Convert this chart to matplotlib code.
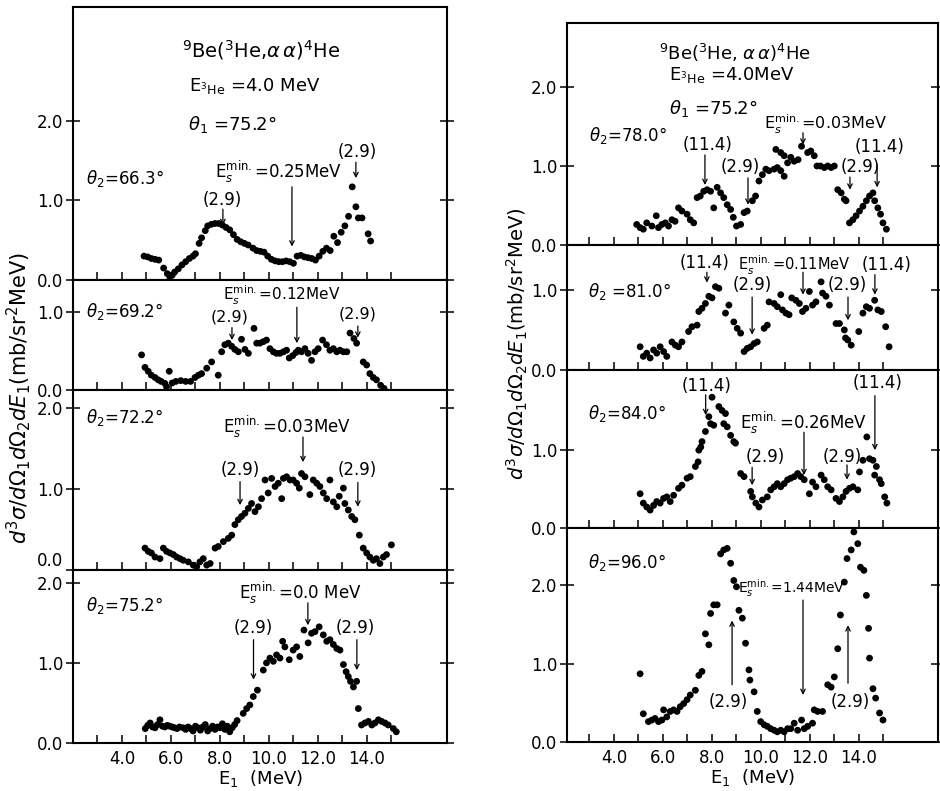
import numpy as np
import matplotlib.pyplot as plt

plt.rcParams['font.family'] = 'DejaVu Sans'
plt.rcParams['mathtext.fontset'] = 'dejavusans'

# ---- data: E1 (MeV) and cross section (mb/sr^2 MeV) ----
# left column, theta2 = 66.3
l1_x = [4.9, 5.05, 5.2, 5.35, 5.5, 5.7, 5.85, 5.95, 6.05, 6.15, 6.3, 6.45, 6.6, 6.75, 6.9, 7.0,
        7.15, 7.25, 7.4, 7.5, 7.65, 7.8, 7.95, 8.1, 8.25, 8.4, 8.55, 8.7, 8.85, 9.0, 9.15, 9.35,
        9.5, 9.65, 9.8, 9.95, 10.1, 10.25, 10.4, 10.55, 10.7, 10.85, 11.0, 11.15, 11.3, 11.45,
        11.6, 11.75, 11.9, 12.05, 12.2, 12.35, 12.5, 12.65, 12.8, 12.95, 13.1, 13.25, 13.4,
        13.55, 13.65, 13.8, 14.05, 14.15]
l1_y = [0.30, 0.29, 0.27, 0.26, 0.25, 0.15, 0.08, 0.04, 0.06, 0.10, 0.14, 0.19, 0.23, 0.27, 0.30, 0.33,
        0.46, 0.53, 0.62, 0.68, 0.70, 0.71, 0.71, 0.69, 0.66, 0.63, 0.57, 0.51, 0.48, 0.46, 0.44, 0.40,
        0.37, 0.36, 0.35, 0.30, 0.26, 0.24, 0.23, 0.23, 0.24, 0.23, 0.21, 0.30, 0.31, 0.29,
        0.28, 0.27, 0.25, 0.30, 0.36, 0.40, 0.37, 0.55, 0.47, 0.60, 0.68, 0.80, 1.17,
        0.92, 0.78, 0.78, 0.58, 0.49]

# theta2 = 69.2
l2_x = [4.8, 4.94, 5.07, 5.2, 5.35, 5.48, 5.6, 5.75, 5.82, 5.93, 6.05, 6.2, 6.4, 6.6, 6.8,
        6.98, 7.12, 7.25, 7.46, 7.66, 7.93, 8.07, 8.2, 8.34, 8.48, 8.61, 8.75, 8.88, 9.02, 9.16,
        9.39, 9.5, 9.63, 9.77, 9.9, 10.04, 10.18, 10.31, 10.45, 10.59, 10.72, 10.83, 10.97,
        11.1, 11.2, 11.33, 11.47, 11.6, 11.74, 11.88, 12.01, 12.19, 12.35, 12.49, 12.63, 12.77,
        12.9, 13.04, 13.18, 13.31, 13.47, 13.58, 13.85, 13.99, 14.12, 14.26, 14.39, 14.56, 14.7]
l2_y = [0.45, 0.29, 0.24, 0.19, 0.16, 0.13, 0.11, 0.085, 0.04, 0.24, 0.09, 0.11, 0.12, 0.11, 0.11,
        0.16, 0.19, 0.21, 0.28, 0.36, 0.19, 0.49, 0.58, 0.60, 0.56, 0.52, 0.49, 0.65, 0.52, 0.47,
        0.79, 0.60, 0.60, 0.62, 0.64, 0.53, 0.49, 0.47, 0.47, 0.49, 0.51, 0.41, 0.44,
        0.48, 0.51, 0.49, 0.53, 0.47, 0.38, 0.49, 0.53, 0.64, 0.58, 0.51, 0.53, 0.49,
        0.51, 0.49, 0.49, 0.73, 0.66, 0.60, 0.36, 0.32, 0.21, 0.16, 0.13, 0.06, 0.02]

# theta2 = 72.2
l3_x = [4.94, 5.07, 5.2, 5.35, 5.55, 5.69, 5.82, 5.96, 6.1, 6.23, 6.37, 6.5, 6.71, 6.91, 7.05,
        7.18, 7.32, 7.46, 7.6, 7.8, 7.93, 8.14, 8.34, 8.48, 8.61, 8.75, 8.88, 9.02, 9.16, 9.29,
        9.43, 9.57, 9.7, 9.84, 9.97, 10.11, 10.25, 10.38, 10.52, 10.59, 10.72, 10.86, 10.99,
        11.13, 11.24, 11.33, 11.47, 11.67, 11.81, 11.95, 12.08, 12.22, 12.36, 12.49, 12.63,
        12.77, 12.87, 13.04, 13.1, 13.24, 13.38, 13.51, 13.69, 13.85, 13.99, 14.12, 14.26,
        14.39, 14.53, 14.67, 14.8, 15.0]
l3_y = [0.27, 0.23, 0.21, 0.16, 0.14, 0.27, 0.23, 0.21, 0.19, 0.16, 0.14, 0.12, 0.10, 0.06, 0.04,
        0.10, 0.14, 0.06, 0.08, 0.27, 0.29, 0.35, 0.39, 0.43, 0.56, 0.62, 0.66, 0.70, 0.76, 0.82,
        0.72, 0.78, 0.88, 1.11, 0.95, 1.13, 1.03, 1.07, 0.88, 1.13, 1.15, 1.11, 1.11,
        1.07, 1.01, 1.19, 1.15, 0.93, 1.11, 1.07, 1.03, 0.95, 0.88, 1.11, 0.84,
        0.78, 0.91, 1.01, 0.82, 0.74, 0.66, 0.62, 0.43, 0.27, 0.21, 0.16, 0.12,
        0.14, 0.08, 0.16, 0.19, 0.31]

# theta2 = 75.2
l4_x = [4.95, 5.05, 5.15, 5.25, 5.35, 5.45, 5.55, 5.65, 5.75, 5.85, 5.95, 6.05, 6.15, 6.25,
        6.35, 6.5, 6.6, 6.7, 6.8, 6.9, 7.0, 7.1, 7.2, 7.3, 7.4, 7.5, 7.6, 7.7, 7.8, 7.9, 8.0,
        8.1, 8.2, 8.3, 8.4, 8.5, 8.6, 8.7, 8.95, 9.09, 9.22, 9.36, 9.53, 9.77, 9.9, 10.04,
        10.18, 10.31, 10.45, 10.56, 10.65, 10.83, 10.99, 11.13, 11.26, 11.43, 11.6, 11.74,
        11.88, 12.05, 12.22, 12.36, 12.49, 12.63, 12.77, 12.9, 13.04, 13.15, 13.24, 13.33,
        13.45, 13.58, 13.65, 13.78, 13.92, 14.06, 14.2, 14.33, 14.47, 14.6, 14.74, 14.87,
        15.08, 15.2]
l4_y = [0.18, 0.22, 0.25, 0.20, 0.19, 0.23, 0.29, 0.21, 0.20, 0.22, 0.21, 0.20, 0.19, 0.18,
        0.20, 0.19, 0.17, 0.20, 0.18, 0.15, 0.21, 0.19, 0.16, 0.20, 0.23, 0.15, 0.18, 0.21, 0.17,
        0.20, 0.19, 0.24, 0.17, 0.21, 0.14, 0.19, 0.23, 0.28, 0.37, 0.43, 0.475, 0.58, 0.66,
        0.91, 1.0, 1.06, 1.02, 1.10, 1.06, 1.27, 1.20, 1.04, 1.16, 1.20, 1.08, 1.41, 1.25,
        1.37, 1.39, 1.45, 1.35, 1.27, 1.29, 1.23, 1.18, 1.16, 0.98, 0.89, 0.83, 0.77, 0.70,
        0.77, 0.43, 0.225, 0.25, 0.27, 0.225, 0.25, 0.29, 0.27, 0.25, 0.225, 0.18, 0.14]

# right column, theta2 = 78.0
r1_x = [4.93, 5.07, 5.2, 5.34, 5.55, 5.73, 5.82, 5.96, 6.1, 6.23, 6.37, 6.5, 6.64, 6.78, 6.99,
        7.12, 7.26, 7.4, 7.53, 7.67, 7.81, 7.95, 8.08, 8.22, 8.36, 8.49, 8.63, 8.77, 8.88, 9.01,
        9.18, 9.32, 9.45, 9.66, 9.79, 9.93, 10.07, 10.21, 10.34, 10.55, 10.62, 10.68, 10.82,
        10.82, 10.96, 10.96, 11.1, 11.23, 11.37, 11.53, 11.67, 11.92, 12.05, 12.19, 12.3, 12.44,
        12.6, 12.74, 12.88, 13.01, 13.15, 13.29, 13.42, 13.49, 13.63, 13.77, 13.9, 14.04, 14.18,
        14.32, 14.45, 14.59, 14.66, 14.79, 14.9, 15.0, 15.14]
r1_y = [0.26, 0.22, 0.20, 0.28, 0.24, 0.37, 0.22, 0.26, 0.28, 0.24, 0.32, 0.30, 0.47, 0.43, 0.39,
        0.32, 0.28, 0.60, 0.62, 0.68, 0.70, 0.68, 0.47, 0.73, 0.66, 0.60, 0.51, 0.45, 0.35, 0.24,
        0.26, 0.41, 0.43, 0.56, 0.62, 0.81, 0.89, 0.96, 0.94, 0.96, 1.21, 0.98, 1.17,
        0.94, 1.13, 0.87, 1.04, 1.11, 1.06, 1.08, 1.25, 1.17, 1.19, 1.13, 1.0, 1.0,
        0.98, 1.0, 0.98, 1.0, 0.70, 0.66, 0.58, 0.56, 0.28, 0.32, 0.37, 0.43, 0.49,
        0.56, 0.62, 0.66, 0.56, 0.47, 0.39, 0.28, 0.20]

# theta2 = 81.0
r2_x = [5.07, 5.2, 5.34, 5.48, 5.62, 5.75, 5.89, 6.03, 6.16, 6.37, 6.51, 6.64, 6.78, 7.05, 7.19,
        7.4, 7.47, 7.6, 7.74, 7.88, 8.01, 8.15, 8.29, 8.56, 8.7, 8.9, 9.04, 9.18, 9.32, 9.45,
        9.59, 9.73, 9.86, 10.14, 10.27, 10.34, 10.55, 10.68, 10.82, 10.89, 11.03, 11.16, 11.27,
        11.44, 11.58, 11.71, 11.85, 11.99, 12.12, 12.26, 12.47, 12.53, 12.67, 12.81, 13.08,
        13.22, 13.42, 13.47, 13.56, 13.7, 14.01, 14.18, 14.32, 14.45, 14.66, 14.79, 14.93,
        15.11, 15.25]
r2_y = [0.29, 0.17, 0.21, 0.15, 0.25, 0.21, 0.29, 0.23, 0.17, 0.35, 0.31, 0.29, 0.35, 0.48, 0.54,
        0.56, 0.73, 0.77, 0.83, 0.92, 0.90, 1.04, 1.02, 0.71, 0.81, 0.60, 0.52, 0.46, 0.23, 0.27,
        0.29, 0.33, 0.35, 0.52, 0.56, 0.85, 0.83, 0.79, 0.94, 0.75, 0.71, 0.69, 0.90,
        0.87, 0.83, 0.73, 0.77, 0.98, 0.81, 0.85, 1.10, 0.96, 0.92, 0.81, 0.58,
        0.58, 0.50, 0.40, 0.375, 0.31, 0.48, 0.71, 0.79, 0.77, 0.87, 0.75, 0.73,
        0.54, 0.29]

# theta2 = 84.0
r3_x = [5.07, 5.2, 5.34, 5.48, 5.62, 5.75, 5.89, 6.03, 6.16, 6.3, 6.44, 6.64, 6.78, 6.99, 7.12,
        7.33, 7.44, 7.47, 7.55, 7.6, 7.74, 7.88, 7.95, 8.01, 8.08, 8.29, 8.42, 8.49, 8.56, 8.63,
        8.77, 8.9, 8.97, 9.18, 9.32, 9.59, 9.66, 9.8, 9.93, 10.07, 10.27, 10.41, 10.55, 10.68,
        10.82, 10.96, 11.1, 11.23, 11.37, 11.51, 11.64, 11.78, 11.99, 12.12, 12.26, 12.47,
        12.6, 12.74, 12.88, 13.08, 13.22, 13.36, 13.49, 13.63, 13.77, 13.97, 14.04, 14.18,
        14.34, 14.45, 14.59, 14.66, 14.73, 14.86, 14.93, 15.07, 15.16]
r3_y = [0.44, 0.32, 0.27, 0.23, 0.29, 0.34, 0.32, 0.38, 0.40, 0.34, 0.42, 0.51, 0.55, 0.64, 0.66,
        0.79, 0.85, 1.0, 1.04, 1.11, 1.24, 1.43, 1.34, 1.68, 1.32, 1.56, 1.51, 1.34, 1.47, 1.30,
        1.19, 1.11, 1.09, 0.70, 0.66, 0.47, 0.40, 0.32, 0.27, 0.36, 0.40, 0.49, 0.53, 0.57,
        0.53, 0.57, 0.62, 0.64, 0.66, 0.70, 0.66, 0.62, 0.44, 0.59, 0.53, 0.68,
        0.62, 0.53, 0.49, 0.38, 0.34, 0.40, 0.47, 0.51, 0.53, 0.49, 0.72, 0.87,
        1.17, 0.89, 0.87, 0.68, 0.79, 0.62, 0.57, 0.40, 0.32]

# theta2 = 96.0
r4_x = [5.07, 5.2, 5.41, 5.55, 5.68, 5.82, 5.96, 6.03, 6.16, 6.3, 6.44, 6.58, 6.71, 6.85, 6.99,
        7.12, 7.33, 7.47, 7.6, 7.74, 7.88, 7.95, 8.08, 8.22, 8.36, 8.49, 8.63, 8.77, 8.9, 9.01,
        9.11, 9.25, 9.38, 9.52, 9.56, 9.73, 9.86, 10.0, 10.14, 10.27, 10.41, 10.55, 10.68,
        10.82, 10.96, 11.1, 11.23, 11.37, 11.51, 11.67, 11.78, 11.92, 12.12, 12.19, 12.33,
        12.53, 12.74, 12.88, 13.01, 13.15, 13.26, 13.42, 13.53, 13.7, 13.81, 13.97, 14.08,
        14.22, 14.32, 14.41, 14.45, 14.59, 14.7, 14.86, 15.0]
r4_y = [0.87, 0.36, 0.26, 0.28, 0.30, 0.26, 0.28, 0.41, 0.32, 0.39, 0.41, 0.39, 0.45, 0.49, 0.54,
        0.60, 0.66, 0.85, 0.90, 1.38, 1.24, 1.64, 1.75, 1.75, 2.40, 2.45, 2.47, 2.28, 2.06, 1.98,
        1.68, 1.58, 1.26, 0.92, 0.79, 0.64, 0.39, 0.26, 0.22, 0.20, 0.17, 0.15, 0.13,
        0.15, 0.13, 0.17, 0.17, 0.24, 0.15, 0.28, 0.17, 0.20, 0.24, 0.41, 0.39,
        0.39, 0.73, 0.70, 0.83, 1.19, 1.62, 2.04, 2.34, 2.45, 2.68, 2.53, 2.23,
        2.19, 1.87, 1.45, 1.07, 0.68, 0.56, 0.37, 0.28]

W, H = 940, 791
fig = plt.figure(figsize=(W / 100, H / 100), dpi=100)


def rect(x0, x1, y0, y1):
    return [x0 / W, 1 - y1 / H, (x1 - x0) / W, (y1 - y0) / H]


def panel(r, xlim, ylim, yt, xs, ys, bottom):
    ax = fig.add_axes(r)
    ax.scatter(xs, ys, s=24, c='black', edgecolors='none', zorder=3)
    ax.set_xlim(*xlim)
    ax.set_ylim(0, ylim)
    ax.set_xticks(range(3, 16))
    if bottom:
        ax.set_xticklabels(['' if v % 2 else f'{v:.1f}' for v in range(3, 16)])
    else:
        ax.set_xticklabels([])
    ax.set_yticks(yt)
    ax.set_yticklabels([f'{v:.1f}' for v in yt])
    ax.tick_params(axis='x', direction='in', length=6, width=1.1, labelsize=12, pad=5)
    ax.tick_params(axis='y', direction='inout', length=10, width=1.1, labelsize=12,
                   right=True, pad=2)
    for s in ax.spines.values():
        s.set_linewidth(1.5)
    return ax


def note(ax, txt, x, y, ha='center', fs=12):
    ax.text(x, y, txt, ha=ha, va='center', fontsize=fs)


def arrow(ax, x, y0, y1):
    ax.annotate('', xy=(x, y1), xytext=(x, y0),
                arrowprops=dict(arrowstyle='->', lw=0.9, color='black',
                                shrinkA=0, shrinkB=0, mutation_scale=8))


XL = (2.0, 17.27)
XR = (2.08, 17.25)
Es = r'E$_s^{\rm min.}$'

# ---------------- left column ----------------
a = panel(rect(73, 447, 7, 280), XL, 3.43, [0, 1, 2], l1_x, l1_y, False)
note(a, r'$^9$Be($^3$He,$\alpha\,\alpha$)$^4$He', 9.7, 2.89, fs=14)
note(a, r'E$_{^3{\rm He}}$ =4.0 MeV', 6.75, 2.44, ha='left', fs=13)
note(a, r'$\theta_1$ =75.2°', 6.7, 1.95, ha='left', fs=13)
note(a, r'$\theta_2$=66.3°', 2.55, 1.28, ha='left')
note(a, Es + '=0.25MeV', 7.8, 1.36, ha='left')
arrow(a, 10.94, 1.17, 0.42)
note(a, '(2.9)', 8.08, 1.0)
arrow(a, 8.12, 0.89, 0.69)
note(a, '(2.9)', 13.6, 1.61)
arrow(a, 13.55, 1.48, 1.28)

a = panel(rect(73, 447, 280, 390), XL, 1.41, [0, 1], l2_x, l2_y, False)
note(a, r'$\theta_2$=69.2°', 2.55, 1.0, ha='left')
note(a, Es + '=0.12MeV', 8.12, 1.21, ha='left', fs=11)
arrow(a, 11.14, 1.06, 0.60)
note(a, '(2.9)', 8.4, 0.93, fs=11.5)
arrow(a, 8.49, 0.80, 0.64)
note(a, '(2.9)', 13.63, 0.97, fs=11.5)
arrow(a, 13.63, 0.82, 0.67)

a = panel(rect(73, 447, 390, 570), XL, 2.22, [0, 1, 2], l3_x, l3_y, False)
a.get_yticklabels()[0].set_va('bottom')
note(a, r'$\theta_2$=72.2°', 2.55, 1.88, ha='left')
note(a, Es + '=0.03MeV', 8.12, 1.77, ha='left')
arrow(a, 11.39, 1.64, 1.33)
note(a, '(2.9)', 8.82, 1.23)
arrow(a, 8.82, 1.09, 0.80)
note(a, '(2.9)', 13.6, 1.23)
arrow(a, 13.63, 1.08, 0.78)

a = panel(rect(73, 447, 570, 743), XL, 2.16, [0, 1, 2], l4_x, l4_y, True)
note(a, r'$\theta_2$=75.2°', 2.55, 1.72, ha='left')
note(a, Es + '=0.0 MeV', 8.78, 1.87, ha='left')
arrow(a, 11.59, 1.75, 1.47)
note(a, '(2.9)', 9.35, 1.44)
arrow(a, 9.37, 1.29, 0.79)
note(a, '(2.9)', 13.51, 1.44)
arrow(a, 13.59, 1.29, 0.91)
a.set_xlabel(r'E$_1$  (MeV)', fontsize=13, labelpad=0)

fig.text(0.02, 1 - 398 / H, r'$d^3\sigma/d\Omega_1 d\Omega_2 dE_1$(mb/sr$^2$MeV)',
         rotation=90, ha='center', va='center', fontsize=15)

# ---------------- right column ----------------
a = panel(rect(567, 938, 23, 245), XR, 2.81, [0, 1, 2], r1_x, r1_y, False)
note(a, r'$^9$Be($^3$He, $\alpha\,\alpha$)$^4$He', 8.95, 2.43, fs=13)
note(a, r'E$_{^3{\rm He}}$ =4.0MeV', 6.25, 2.15, ha='left', fs=13)
note(a, r'$\theta_1$ =75.2°', 6.25, 1.73, ha='left', fs=13)
note(a, r'$\theta_2$=78.0°', 3.0, 1.39, ha='left')
note(a, Es + '=0.03MeV', 10.15, 1.53, ha='left', fs=11.5)
arrow(a, 11.73, 1.42, 1.27)
note(a, '(11.4)', 7.84, 1.27)
arrow(a, 7.72, 1.14, 0.76)
note(a, '(2.9)', 9.15, 0.99)
arrow(a, 9.48, 0.85, 0.51)
note(a, '(2.9)', 14.06, 0.99)
arrow(a, 13.65, 0.86, 0.70)
note(a, '(11.4)', 14.88, 1.24)
arrow(a, 14.76, 1.01, 0.73)

a = panel(rect(567, 938, 245, 370), XR, 1.56, [0, 1], r2_x, r2_y, False)
note(a, r'$\theta_2$ =81.0°', 2.94, 0.98, ha='left')
note(a, '(11.4)', 7.72, 1.34)
arrow(a, 7.8, 1.22, 1.09)
note(a, Es + '=0.11MeV', 9.07, 1.31, ha='left', fs=10.5)
arrow(a, 11.73, 1.22, 0.94)
note(a, '(2.9)', 9.65, 1.06)
arrow(a, 9.65, 0.91, 0.44)
note(a, '(2.9)', 13.53, 1.06)
arrow(a, 13.57, 0.91, 0.62)
note(a, '(11.4)', 15.15, 1.31)
arrow(a, 14.67, 1.19, 0.94)

a = panel(rect(567, 938, 370, 528), XR, 2.03, [0, 1], r3_x, r3_y, False)
note(a, r'$\theta_2$=84.0°', 2.94, 1.47, ha='left')
note(a, '(11.4)', 7.8, 1.83)
arrow(a, 7.75, 1.71, 1.45)
note(a, Es + '=0.26MeV', 9.15, 1.35, ha='left')
arrow(a, 11.77, 1.23, 0.68)
note(a, '(2.9)', 10.18, 0.91)
arrow(a, 9.65, 0.78, 0.55)
note(a, '(2.9)', 13.32, 0.91)
arrow(a, 13.53, 0.81, 0.62)
note(a, '(11.4)', 14.76, 1.86)
arrow(a, 14.67, 1.70, 1.00)

a = panel(rect(567, 938, 528, 742), XR, 2.73, [0, 1, 2], r4_x, r4_y, True)
note(a, r'$\theta_2$=96.0°', 2.94, 2.29, ha='left')
note(a, Es + '=1.44MeV', 9.07, 1.97, ha='left', fs=10)
arrow(a, 11.73, 1.81, 0.60)
note(a, '(2.9)', 8.66, 0.51)
arrow(a, 8.83, 0.73, 1.55)
note(a, '(2.9)', 13.65, 0.51)
arrow(a, 13.57, 0.75, 1.49)
a.set_xlabel(r'E$_1$  (MeV)', fontsize=13, labelpad=0)

fig.text(517 / W, 1 - 344 / H, r'$d^3\sigma/d\Omega_1 d\Omega_2 dE_1$(mb/sr$^2$MeV)',
         rotation=90, ha='center', va='center', fontsize=14)

fig.savefig('out.png', dpi=100)
